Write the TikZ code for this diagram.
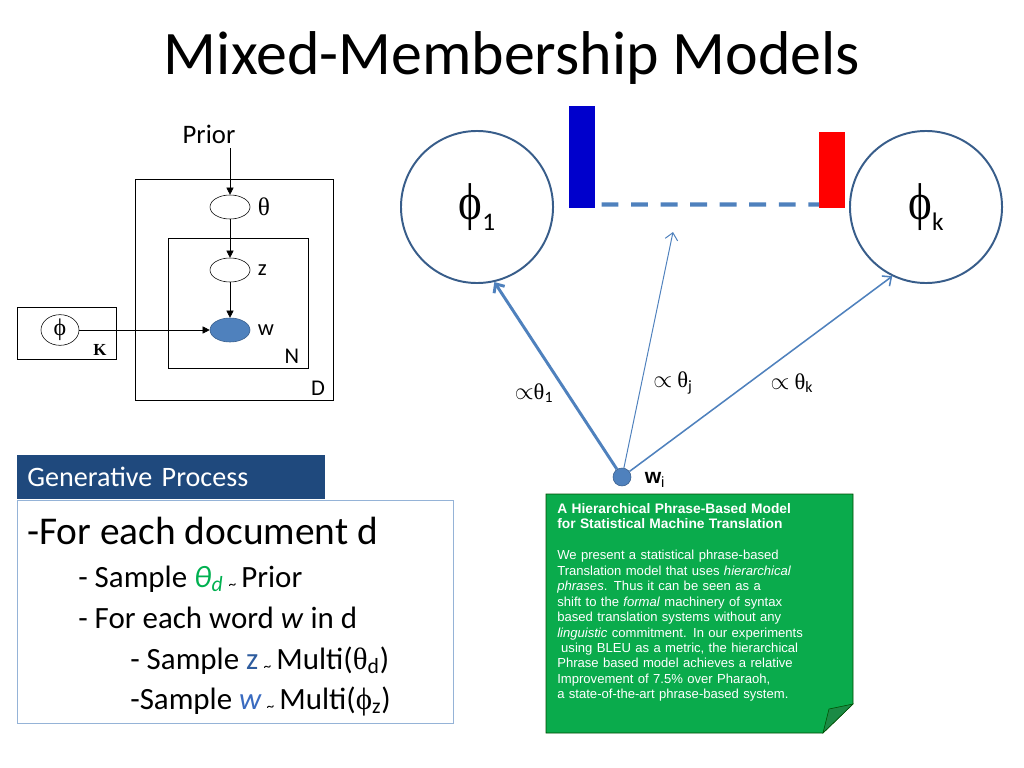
\documentclass[tikz,border=0pt]{standalone}
\usepackage{fontspec}
\usepackage{graphicx}
\setmainfont{Carlito}
\newfontfamily\symf{Liberation Serif}
\newfontfamily\arialf{Liberation Sans}
\usetikzlibrary{shapes.geometric, positioning, arrows.meta}
\usepackage{xcolor}
\definecolor{nodeblue}{HTML}{4F81BD}
\definecolor{ringblue}{HTML}{385D8A}
\definecolor{headblue}{HTML}{1F497D}
\definecolor{boxline}{HTML}{95B3D7}
\definecolor{notegreen}{HTML}{0AAB4C}
\definecolor{folddark}{HTML}{1B8A45}
\definecolor{thetagreen}{HTML}{00B050}
\definecolor{zblue}{HTML}{2E5C9E}
\definecolor{wblue}{HTML}{3A6BC0}
\definecolor{barblue}{HTML}{0000CC}
\newcommand{\simmark}{{\fontsize{11}{11}\selectfont\raisebox{-0.3ex}{\textasciitilde}}}
\newcommand{\tallphi}{{\symf\scalebox{1}[1.15]{ϕ}}}

\begin{document}
\begin{tikzpicture}[x=0.025cm, y=-0.025cm,
    latent/.style={ellipse, draw, thin, minimum width=1cm, minimum height=0.6cm, inner sep=0pt},
    observed/.style={latent, fill=nodeblue, draw=ringblue},
    gmarrow/.style={-{Triangle[length=5pt, width=5pt]}, thin},
    gmlabel/.style={font=\fontsize{16}{18}\selectfont, inner sep=1pt},
    topic/.style={circle, draw=ringblue, line width=1.4pt, minimum size=3.8cm, font=\fontsize{32}{34}\selectfont},
    pull/.style={-{Straight Barb[length=5pt, width=9pt]}, draw=nodeblue},
    stepline/.style={anchor=base west, inner sep=0pt, font=\fontsize{22}{26}\selectfont},
    weight/.style={font=\fontsize{16}{18}\selectfont}
]
    \useasboundingbox (0,0) rectangle (1024,768);
    \node[anchor=base, font=\fontsize{44}{50}\selectfont] (title) at (512,75) {Mixed-Membership Models};

    % graphical model
    \draw[thin] (135,179) rectangle (333,400);
    \draw[thin] (168,238) rectangle (308,368);
    \draw[thin] (17,307) rectangle (116,359);
    \node[font=\fontsize{19}{22}\selectfont] (prior) at (209,134) {Prior};
    \node[latent] (theta) at (230,207) {};
    \node[latent] (z) at (230,270) {};
    \node[observed] (w) at (230,330) {};
    \node[latent, minimum width=0.95cm, minimum height=0.55cm, font=\symf\fontsize{17}{17}\selectfont] (phi) at (60,330) {ϕ};
    \node[gmlabel, font=\symf\fontsize{18}{20}\selectfont, right=0.15cm of theta] {θ};
    \node[gmlabel, right=0.15cm of z] {z};
    \node[gmlabel, right=0.15cm of w] {w};
    \node[gmlabel] (nlabel) at (292,356) {N};
    \node[gmlabel] (dlabel) at (318,388) {D};
    \node[font=\symf\bfseries\fontsize{12}{12}\selectfont] (klabel) at (100,350) {K};

    \draw[gmarrow] (prior.south -| theta) -- (theta);
    \draw[gmarrow] (theta) -- (z);
    \draw[gmarrow] (z) -- (w);
    \draw[gmarrow] (phi) -- (w);

    % generative process
    \node[fill=headblue, text=white, anchor=north west, minimum width=7.7cm, minimum height=1.1cm, text width=7.2cm, inner xsep=0.25cm, align=left, font=\fontsize{20}{24}\selectfont] (genHead) at (17,455) {Generative Process};
    \node[draw=boxline, anchor=north west, minimum width=10.9cm, minimum height=5.575cm] (genBody) at (17,500) {};
    \node[stepline, font=\fontsize{28}{32}\selectfont] (forDoc) at (27,544) {-For each document d};
    \node[stepline] (sampleTheta) at (78,587) {- Sample \textcolor{thetagreen}{\itshape θ\textsubscript{d}}\,\simmark\,Prior};
    \node[stepline] (forWord) at (78,628) {- For each word \textit{w} in d};
    \node[stepline] (sampleZ) at (130,669) {- Sample \textcolor{zblue}{z}\,\simmark\,Multi({\symf θ}\textsubscript{d})};
    \node[stepline] (sampleW) at (130,709) {-Sample \textcolor{wblue}{\itshape w}\,\simmark\,Multi({\symf ϕ}\textsubscript{z})};

    % topics and word
    \node[topic] (topic1) at (477,207) {\tallphi\raisebox{-8pt}{\fontsize{18}{18}\selectfont 1}};
    \node[topic] (topicK) at (926,207) {\tallphi\raisebox{-8pt}{\fontsize{18}{18}\selectfont k}};
    \node[fill=barblue, minimum width=0.65cm, minimum height=2.55cm, inner sep=0pt, anchor=north west] (barBlue) at (569,106) {};
    \node[fill=red, minimum width=0.65cm, minimum height=1.9cm, inner sep=0pt, anchor=north west] (barRed) at (819,132) {};
    \draw[nodeblue, line width=3pt, dash pattern=on 12pt off 9pt] ([yshift=0.1cm]barBlue.south east) ++(0.15cm,0) -- ([yshift=0.1cm]barRed.south west);
    \node[circle, fill=nodeblue, draw=ringblue, minimum size=0.45cm, inner sep=0pt] (wordDot) at (622,477) {};
    \coordinate (midTip) at (673,232);
    \draw[pull, line width=2.1pt] (wordDot) -- (topic1.-77);
    \draw[pull, line width=0.7pt] (wordDot) -- (midTip);
    \draw[pull, line width=1.1pt] (wordDot) -- (topicK.-116);
    \node[weight] (prop1) at (534,393) {$\propto${\symf θ}\textsubscript{1}};
    \node[weight] (propJ) at (673,383) {$\propto$ {\symf θ}\textsubscript{j}};
    \node[weight] (propK) at (792,383) {$\propto$ {\symf θ}\textsubscript{k}};
    \node[font=\arialf\bfseries\fontsize{15}{17}\selectfont] (wordLabel) at (655,480) {w\textsubscript{\mdseries i}};

    % abstract note
    \path[fill=notegreen, draw=black!70!green, thin] (546,494) -- (853,494) -- (853,704) -- (823,733) -- (546,733) -- cycle;
    \path[fill=folddark, draw=black!70!green, thin] (823,733) -- (829,709) -- (853,704) -- cycle;
    \node[anchor=north west, inner sep=0pt, text width=7.4cm, align=left, text=white, font=\arialf\fontsize{9.3}{11}\selectfont] (abstract) at (557,503) {{\fontsize{9.8}{11}\selectfont\bfseries A Hierarchical Phrase-Based Model}\\
{\fontsize{9.8}{11}\selectfont\bfseries for Statistical Machine Translation}\\[11pt]
We present a statistical phrase-based\\
Translation model that uses \textit{hierarchical}\\
\textit{phrases}. Thus it can be seen as a\\
shift to the \textit{formal} machinery of syntax\\
based translation systems without any\\
\textit{linguistic} commitment. In our experiments\\
\hspace*{0.3em}using BLEU as a metric, the hierarchical\\
Phrase based model achieves a relative\\
Improvement of 7.5\% over Pharaoh,\\
a state-of-the-art phrase-based system.};
\end{tikzpicture}
\end{document}
